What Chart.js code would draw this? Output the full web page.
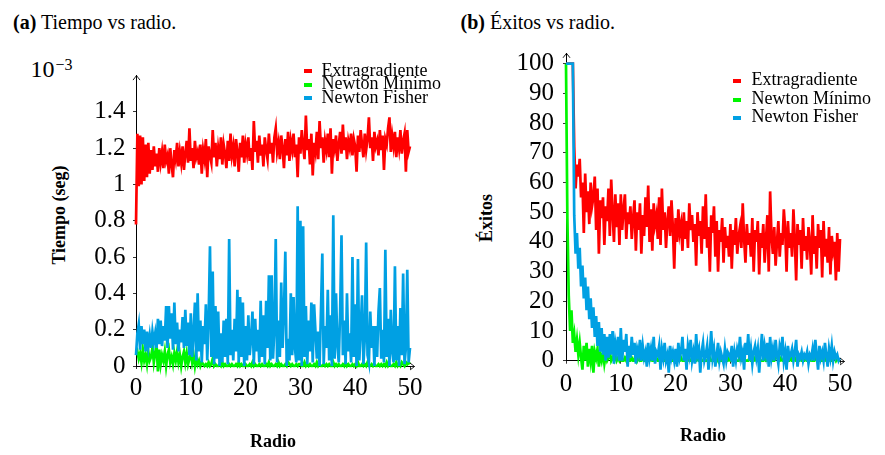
<!DOCTYPE html>
<html lang="es">
<head>
<meta charset="utf-8">
<title>Tiempo y éxitos vs radio</title>
<script src="https://cdn.jsdelivr.net/npm/chart.js@4.4.1/dist/chart.umd.min.js"></script>
<style>
  body { margin: 0; background: #fff; width: 885px; height: 455px; overflow: hidden; position: relative;
         font-family: 'Liberation Serif', 'Times New Roman', serif; color: #000; }
  canvas { position: absolute; top: 0; }
  #graficoTiempo { left: 0; }
  #graficoExitos { left: 445px; }
  .txt { position: absolute; white-space: nowrap; line-height: 1; }
  .titulo { font-size: 20px; }
  .ytit { position: absolute; width: 160px; text-align: center; font-weight: bold; font-size: 18px;
          line-height: 18px; white-space: nowrap; transform: rotate(-90deg); }
  .ley { position: absolute; font-size: 18px; white-space: nowrap; }
  .marca { position: absolute; width: 8px; height: 4px; }
</style>
</head>
<body>
<div class="txt titulo" style="left:13px;top:11.5px"><b>(a)</b> Tiempo vs radio.</div>
<div class="txt titulo" style="left:460.5px;top:11.5px"><b>(b)</b> Éxitos vs radio.</div>
<div class="txt" style="left:30.5px;top:57px;font-size:24px">10</div>
<div class="txt" style="left:55.5px;top:56.5px;font-size:16px">−3</div>
<div class="ytit" style="left:-21.5px;top:206px">Tiempo (seg)</div>
<div class="ytit" style="left:406px;top:209px">Éxitos</div>
<canvas id="graficoTiempo" width="445" height="455"></canvas>
<canvas id="graficoExitos" width="440" height="455"></canvas>

<script>
// radio de 0 a 50 cada 0.25
const paso = 0.25;
const radios = Array.from({ length: 201 }, (_, i) => i * paso);

const nombres = ['Extragradiente', 'Newton Mínimo', 'Newton Fisher'];
const colores = ['rgb(255,0,0)', 'rgb(0,245,0)', 'rgb(0,160,227)'];

const ticksRadio = [0, 10, 20, 30, 40, 50];
const ticksTiempo = [0, 0.2, 0.4, 0.6, 0.8, 1, 1.2, 1.4];
const ticksExitos = [0, 10, 20, 30, 40, 50, 60, 70, 80, 90, 100];

// tiempo en unidades de 10^-3 seg
const tiempoExtra = [
  0.78, 1.28, 0.99, 1.27, 1.00, 1.26, 1.02, 1.22, 1.04, 1.23, 1.06, 1.19, 1.08, 1.21, 1.10, 1.17, 1.07, 1.20, 1.12, 1.18,
  1.09, 1.22, 1.13, 1.16, 1.06, 1.20, 1.11, 1.04, 1.19, 1.14, 1.23, 1.10, 1.18, 1.12, 1.21, 1.08, 1.17, 1.24, 1.12, 1.31,
  1.13, 1.20, 1.09, 1.24, 1.15, 1.18, 1.11, 1.22, 1.06, 1.19, 1.14, 1.25, 1.04, 1.21, 1.16, 1.12, 1.30, 1.15, 1.23, 1.10,
  1.20, 1.14, 1.26, 1.11, 1.22, 1.17, 1.09, 1.24, 1.13, 1.28, 1.16, 1.21, 1.10, 1.25, 1.18, 1.07, 1.23, 1.15, 1.27, 1.12,
  1.22, 1.17, 1.26, 1.13, 1.20, 1.08, 1.35, 1.18, 1.24, 1.12, 1.27, 1.16, 1.22, 1.10, 1.26, 1.19, 1.14, 1.28, 1.17, 1.23,
  1.12, 1.26, 1.31, 1.18, 1.23, 1.14, 1.27, 1.20, 1.09, 1.25, 1.16, 1.29, 1.13, 1.24, 1.19, 1.28, 1.15, 1.22, 1.04, 1.26,
  1.17, 1.30, 1.21, 1.14, 1.38, 1.19, 1.25, 1.11, 1.28, 1.05, 1.23, 1.18, 1.29, 1.14, 1.35, 1.20, 1.26, 1.12, 1.24, 1.19,
  1.28, 1.15, 1.31, 1.06, 1.25, 1.20, 1.27, 1.13, 1.22, 1.29, 1.17, 1.33, 1.19, 1.26, 1.14, 1.24, 1.20, 1.28, 1.16, 1.25,
  1.21, 1.07, 1.27, 1.18, 1.30, 1.22, 1.15, 1.28, 1.19, 1.25, 1.37, 1.20, 1.26, 1.13, 1.29, 1.21, 1.24, 1.16, 1.30, 1.19,
  1.27, 1.08, 1.25, 1.22, 1.31, 1.37, 1.18, 1.27, 1.21, 1.29, 1.15, 1.26, 1.20, 1.30, 1.17, 1.24, 1.28, 1.07, 1.30, 1.18,
  1.21
];
const tiempoMinimo = [
  0.06, 0.08, 0.04, 0.07, 0.02, 0.09, 0.03, 0.06, 0.01, 0.08, 0.03, 0.05, 0.10, 0.02, 0.07, 0.12, -0.03, 0.09, 0.01, 0.06,
  0.03, 0.08, 0.00, 0.06, 0.09, 0.02, 0.05, 0.01, 0.07, 0.03, 0.08, 0.02, 0.06, 0.00, 0.05, 0.08, 0.02, 0.07, 0.01, 0.04,
  0.08, 0.02, 0.06, 0.00, 0.05, 0.01, 0.03, 0.00, 0.02, 0.01, 0.00, 0.01, 0.00, 0.02, 0.00, 0.01, 0.04, 0.00, 0.01, 0.00,
  0.00, 0.01, 0.00, 0.02, 0.00, 0.01, 0.00, 0.00, 0.01, 0.00, 0.01, 0.00, 0.00, 0.01, 0.00, 0.02, 0.00, 0.01, 0.00, 0.00,
  0.01, 0.00, 0.00, 0.01, 0.00, 0.02, 0.00, 0.01, 0.00, 0.00, 0.01, 0.00, 0.01, 0.00, 0.00, 0.01, 0.00, 0.02, 0.00, 0.01,
  0.00, 0.00, 0.01, 0.00, 0.02, 0.00, 0.01, 0.00, 0.00, 0.01, 0.00, 0.02, 0.01, 0.00, 0.01, 0.00, 0.00, 0.01, 0.00, 0.01,
  0.01, 0.00, 0.00, 0.02, 0.00, 0.01, 0.00, 0.01, 0.00, 0.00, 0.01, 0.00, 0.02, 0.00, 0.01, 0.00, 0.00, 0.01, 0.00, 0.01,
  0.00, 0.01, 0.00, 0.00, 0.02, 0.00, 0.01, 0.00, 0.01, 0.00, 0.00, 0.01, 0.00, 0.02, 0.00, 0.01, 0.00, 0.00, 0.01, 0.00,
  0.01, 0.00, 0.02, 0.00, 0.00, 0.01, 0.00, 0.01, 0.00, 0.02, 0.00, 0.00, 0.01, 0.00, 0.01, 0.00, 0.00, 0.01, 0.00, 0.01,
  0.00, 0.01, 0.00, 0.02, 0.00, 0.01, 0.00, 0.00, 0.01, 0.00, 0.02, 0.00, 0.01, 0.00, 0.02, 0.01, 0.00, 0.02, 0.01, 0.02,
  0.01
];
const tiempoFisher = [
  0.06, 0.18, 0.23, 0.09, 0.22, 0.12, 0.20, 0.08, 0.19, 0.11, 0.17, 0.10, 0.19, 0.13, 0.18, 0.10, 0.26, 0.12, 0.25, 0.11,
  0.22, 0.14, 0.33, 0.10, 0.33, 0.15, 0.29, 0.09, 0.35, 0.12, 0.24, 0.08, 0.20, 0.13, 0.27, 0.10, 0.31, 0.11, 0.24, 0.06,
  0.29, 0.05, 0.18, 0.35, 0.03, 0.40, 0.08, 0.25, 0.02, 0.22, 0.12, 0.34, 0.03, 0.26, 0.66, 0.05, 0.52, 0.01, 0.33, 0.04,
  0.30, 0.00, 0.18, 0.02, 0.25, 0.05, 0.26, 0.01, 0.70, 0.06, 0.20, 0.03, 0.26, 0.08, 0.42, 0.02, 0.38, 0.05, 0.35, 0.00,
  0.22, 0.03, 0.28, 0.06, 0.15, 0.30, 0.01, 0.26, 0.08, 0.20, 0.02, 0.36, 0.05, 0.28, 0.01, 0.36, 0.10, 0.50, 0.03, 0.50,
  0.04, 0.20, 0.70, 0.02, 0.25, 0.05, 0.46, 0.10, 0.30, 0.63, 0.00, 0.15, 0.03, 0.40, 0.06, 0.38, 0.10, 0.02, 0.88, 0.03,
  0.80, 0.00, 0.77, 0.05, 0.33, 0.01, 0.25, 0.08, 0.35, 0.02, 0.34, 0.19, 0.04, 0.19, 0.00, 0.30, 0.62, 0.01, 0.22, 0.10,
  0.42, 0.03, 0.28, 0.00, 0.83, 0.04, 0.40, 0.12, 0.02, 0.30, 0.72, 0.06, 0.25, 0.01, 0.40, 0.08, 0.18, 0.02, 0.60, 0.05,
  0.34, 0.00, 0.59, 0.03, 0.20, 0.39, 0.01, 0.15, 0.68, 0.06, 0.02, 0.30, 0.10, 0.22, 0.00, 0.22, 0.05, 0.30, 0.43, 0.04,
  0.20, 0.02, 0.64, 0.05, 0.26, 0.00, 0.31, 0.08, 0.02, 0.55, 0.03, 0.22, 0.00, 0.32, 0.06, 0.51, 0.01, 0.10, 0.53, 0.02,
  0.10
];

// éxitos (sobre 100)
const exitosExtra = [
  100, 100, 100, 100, 100, 100, 72, 58, 66, 62, 68, 55, 60, 43, 63, 50, 57, 46, 60, 52,
  55, 62, 44, 58, 36, 54, 48, 55, 39, 52, 47, 58, 42, 61, 50, 40, 56, 45, 53, 39,
  56, 44, 51, 56, 41, 50, 46, 52, 41, 48, 54, 37, 50, 44, 53, 36, 49, 42, 55, 45,
  59, 40, 51, 37, 53, 46, 49, 41, 55, 39, 58, 44, 50, 38, 47, 52, 42, 54, 45, 31,
  48, 40, 51, 43, 46, 37, 50, 41, 47, 38, 53, 44, 49, 40, 46, 32, 50, 42, 47, 36,
  52, 41, 56, 38, 45, 30, 49, 43, 52, 35, 47, 30, 44, 40, 48, 33, 45, 38, 42, 35,
  46, 31, 44, 39, 48, 36, 42, 45, 38, 53, 41, 33, 46, 39, 43, 35, 48, 30, 44, 40,
  47, 29, 43, 38, 46, 33, 41, 49, 30, 57, 42, 36, 45, 32, 40, 47, 35, 43, 39, 51,
  44, 30, 47, 38, 43, 35, 51, 41, 27, 46, 39, 44, 31, 48, 37, 42, 34, 45, 40, 29,
  49, 36, 42, 31, 46, 38, 44, 28, 47, 35, 41, 33, 45, 29, 42, 37, 40, 27, 43, 30,
  41
];
const exitosMinimo = [
  100, 48, 22, 10, 17, 6, 9, 3, 7, 2, 6, 1, -3, 5, 0, 6, -2, 4, 0, 5,
  -4, 3, 1, 4, -2, 2, 0, 3, -1, 2, 0, 1, 3, 0, 1, 0, 2, 0, 1, 0,
  1, 0, 0, 1, 0, 2, 0, 0, 1, 0, 0, 3, 0, 1, 0, 0, 1, 0, 0, 1,
  0, 0, 1, 0, 0, 0, 1, 0, 0, 1, 0, 0, 0, 1, 0, 0, 0, 1, 0, 0,
  1, 0, 0, 0, 1, 0, 0, 0, 0, 1, 0, 0, 1, 0, 0, 0, 1, 0, 0, 0,
  0, 1, 0, 0, 0, 1, 0, 0, 0, 0, 1, 0, 2, 0, 0, 1, 0, 0, 0, 1,
  0, 0, 1, 0, 0, 0, 0, 1, 0, 0, 1, 0, 0, 0, 1, 0, 0, 0, 1, 0,
  0, 1, 0, 0, 0, 1, 0, 0, 0, 0, 1, 0, 0, 1, 2, 0, 0, 1, 0, 0,
  1, 0, 0, 0, 1, 0, 0, 1, 0, 0, 0, 1, 0, 0, 0, 1, 0, 0, 1, 0,
  0, 0, 1, 0, 0, 1, 0, 0, 0, 1, 0, 0, 1, 0, 0, 2, 1, 0, 1, 0,
  0
];
const exitosFisher = [
  100, 100, 100, 100, 100, 100, 49, 36, 43, 31, 38, 25, 32, 21, 28, 17, 25, 14, 21, 11,
  18, 8, 15, 5, 13, 3, 11, 2, 9, 0, 8, 1, 9, 2, 10, -1, 6, 3, 8, 0,
  11, 0, 7, 3, 9, -2, 5, 1, 8, 2, 6, -1, 4, 2, 7, 0, 5, 1, 3, -2,
  6, 1, 4, 0, 8, -1, 3, 2, 5, -3, 4, 1, 6, 0, 2, -4, 5, 1, 3, 0,
  4, -2, 6, 1, 3, 8, 0, 4, -3, 5, 2, 7, 0, 3, -1, 9, 2, 4, -4, 3,
  6, 0, 2, 5, -3, 3, 10, 1, 4, -2, 2, 6, 0, 3, 1, -1, 4, 0, 3, 2,
  1, 5, -2, 3, 0, 4, 2, 8, 1, 3, -3, 6, 2, 9, 0, 4, -1, 3, 5, 1,
  4, -4, 3, 9, 0, 5, 2, 6, -2, 8, 1, 4, 0, 7, 2, -1, 5, 3, 8, 0,
  3, -3, 5, 1, 2, 4, 0, 3, 7, -2, 2, 1, 3, 0, 2, 1, 3, -1, 2, 1,
  4, 0, 7, 2, -3, 5, 1, 3, 0, 6, 2, -2, 4, 1, 5, 0, 3, 1, 2, 0,
  1
];

Chart.defaults.font.family = "'Liberation Serif', 'Times New Roman', serif";
Chart.defaults.color = '#000';

// flechas al final de los ejes, como en pgfplots
const flechas = {
  id: 'flechas',
  afterDatasetsDraw(chart, args, opts) {
    const { ctx, chartArea: a } = chart;
    const x0 = Math.round(a.left) + 0.5;
    const y0 = Math.round(a.bottom) + 0.5;
    const xf = a.right + opts.extra;
    const yt = a.top;
    ctx.save();
    ctx.strokeStyle = '#000';
    ctx.lineWidth = 0.9;
    ctx.beginPath();
    ctx.moveTo(a.right, y0);
    ctx.lineTo(xf, y0);
    ctx.moveTo(xf - 4.5, y0 - 3.5);
    ctx.quadraticCurveTo(xf - 1, y0 - 0.8, xf, y0);
    ctx.quadraticCurveTo(xf - 1, y0 + 0.8, xf - 4.5, y0 + 3.5);
    ctx.moveTo(x0 - 3.5, yt + 4.5);
    ctx.quadraticCurveTo(x0 - 0.8, yt + 1, x0, yt);
    ctx.quadraticCurveTo(x0 + 0.8, yt + 1, x0 + 3.5, yt + 4.5);
    ctx.stroke();
    ctx.restore();
  }
};

function series(valores) {
  return valores.map((v, i) => ({ x: radios[i], y: v }));
}

function crearGrafico(id, datos, o) {
  const ctx = document.getElementById(id).getContext('2d');
  return new Chart(ctx, {
    type: 'line',
    data: {
      datasets: datos.map((d, i) => ({
        label: nombres[i],
        data: series(d),
        borderColor: colores[i],
        backgroundColor: colores[i],
        borderWidth: 2.7,
        pointRadius: 0,
        tension: 0,
        clip: false,
        order: 3 - i
      }))
    },
    plugins: [flechas],
    options: {
      responsive: false,
      animation: false,
      events: [],
      layout: { padding: { left: 0, right: o.derecha, top: o.arriba, bottom: 0 } },
      plugins: {
        legend: { display: false },
        tooltip: { enabled: false },
        flechas: { extra: 4.5 }
      },
      scales: {
        x: {
          type: 'linear',
          min: 0,
          max: 50,
          afterBuildTicks: s => { s.ticks = ticksRadio.map(v => ({ value: v })); },
          afterFit: s => { s.height = o.altoX; },
          grid: { drawOnChartArea: false, drawTicks: true, tickLength: 3, color: '#000', lineWidth: 0.8 },
          border: { display: true, color: '#000', width: 1 },
          ticks: { font: { size: 25 }, padding: o.padX, maxRotation: 0, autoSkip: false },
          title: { display: true, text: 'Radio', font: { size: 18, weight: 'bold' },
                   padding: { top: 0, bottom: o.padTitulo } }
        },
        y: {
          type: 'linear',
          min: 0,
          max: o.maxY,
          afterBuildTicks: s => { s.ticks = o.ticksY.map(v => ({ value: v })); },
          afterFit: s => { s.width = o.anchoY; },
          grid: { drawOnChartArea: false, drawTicks: true, tickLength: 3, color: '#000', lineWidth: 0.8 },
          border: { display: true, color: '#000', width: 1 },
          ticks: { font: { size: 25, lineHeight: 1 }, padding: o.padY, autoSkip: false,
                   callback: v => String(Math.round(v * 10) / 10) }
        }
      }
    }
  });
}

function pintarLeyenda(x, y, alto, marcaX, marcaY) {
  const caja = document.createElement('div');
  caja.className = 'ley';
  caja.style.left = x + 'px';
  caja.style.top = y + 'px';
  caja.style.lineHeight = alto + 'px';
  caja.innerHTML = nombres.join('<br>');
  document.body.appendChild(caja);
  nombres.forEach((n, i) => {
    const m = document.createElement('div');
    m.className = 'marca';
    m.style.left = marcaX + 'px';
    m.style.top = (marcaY + i * alto) + 'px';
    m.style.background = colores[i];
    document.body.appendChild(m);
  });
}

crearGrafico('graficoTiempo', [tiempoExtra, tiempoMinimo, tiempoFisher], {
  derecha: 35, arriba: 75.6, altoX: 89, anchoY: 136, maxY: 1.6, ticksY: ticksTiempo,
  padX: 4.5, padY: 7.5, padTitulo: 2.2
});
crearGrafico('graficoExitos', [exitosExtra, exitosMinimo, exitosFisher], {
  derecha: 45, arriba: 53.3, altoX: 94.3, anchoY: 121, maxY: 103.5, ticksY: ticksExitos,
  padX: 6, padY: 9, padTitulo: 7.5
});

pintarLeyenda(321.5, 64, 13.4, 303.5, 69.3);
pintarLeyenda(751.5, 70.4, 18.3, 733, 79.3);
</script>
</body>
</html>
